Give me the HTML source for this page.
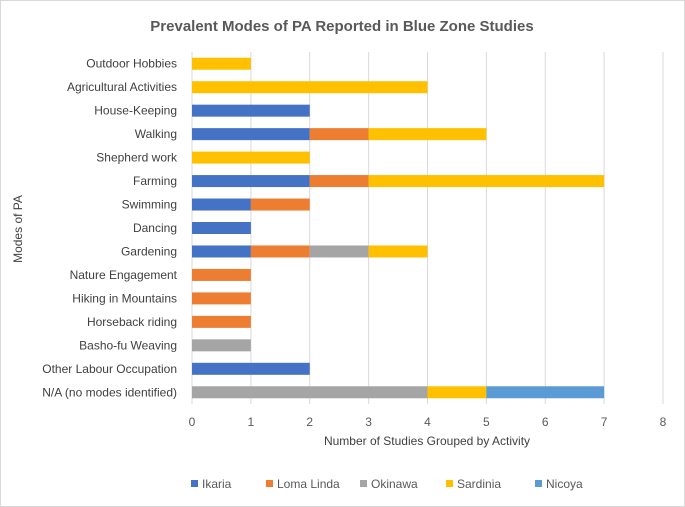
<!DOCTYPE html>
<html><head><meta charset="utf-8"><style>
body{margin:0;background:#fff;font-family:"Liberation Sans",sans-serif}
#c{position:relative;width:685px;height:507px;overflow:hidden}
text{font-family:"Liberation Sans",sans-serif}
</style></head><body>
<div id="c">
<svg id="s" width="685" height="507" xmlns="http://www.w3.org/2000/svg">
<rect x="0.5" y="0.5" width="684" height="506" fill="#fff" stroke="#d9d9d9"/>
<text x="342" y="31" text-anchor="middle" font-size="15" font-weight="bold" fill="#595959">Prevalent Modes of PA Reported in Blue Zone Studies</text>
<text transform="translate(22,229) rotate(-90)" text-anchor="middle" font-size="12" fill="#404040">Modes of PA</text>
<text x="427" y="445" text-anchor="middle" font-size="12" fill="#404040">Number of Studies Grouped by Activity</text>
<g id="grid"></g><g id="bars"></g><g id="ylab"></g><g id="xlab"></g><g id="legend"></g>
</svg></div>
<script>
const categories=["Outdoor Hobbies","Agricultural Activities","House-Keeping","Walking","Shepherd work","Farming","Swimming","Dancing","Gardening","Nature Engagement","Hiking in Mountains","Horseback riding","Basho-fu Weaving","Other Labour Occupation","N/A (no modes identified)"];
const seriesNames=["Ikaria","Loma Linda","Okinawa","Sardinia","Nicoya"];
const ikaria=[0,0,2,2,0,2,1,1,1,0,0,0,0,2,0];
const lomaLinda=[0,0,0,1,0,1,1,0,1,1,1,1,0,0,0];
const okinawa=[0,0,0,0,0,0,0,0,1,0,0,0,1,0,4];
const sardinia=[1,4,0,2,2,4,0,0,1,0,0,0,0,0,1];
const nicoya=[0,0,0,0,0,0,0,0,0,0,0,0,0,0,2];
const xTicks=[0,1,2,3,4,5,6,7,8];
const colors=["#4472C4","#ED7D31","#A5A5A5","#FFC000","#5B9BD5"];
const series=[ikaria,lomaLinda,okinawa,sardinia,nicoya];
const NS="http://www.w3.org/2000/svg";
const x0=192,x1=663,yTop=52,yBot=404;
const xs=v=>x0+(x1-x0)*v/8;
const band=(yBot-yTop)/categories.length;
const ys=i=>yTop+band*(i+0.5);
function mk(t,a,p){const e=document.createElementNS(NS,t);for(const k in a)e.setAttribute(k,a[k]);p.appendChild(e);return e;}
const g=document.getElementById('grid');
xTicks.forEach(t=>{const l=mk('line',{x1:xs(t),x2:xs(t),y1:yTop,y2:yBot,stroke:'#d9d9d9','stroke-width':1},g);


const tx=mk('text',{x:xs(t),y:426,'text-anchor':'middle','font-size':12,fill:'#595959'},document.getElementById('xlab'));tx.textContent=t;

});
const bg=document.getElementById('bars');
categories.forEach((c,i)=>{let acc=0;
series.forEach((s,j)=>{const v=s[i];if(!v)return;
const r=mk('rect',{x:xs(acc),y:ys(i)-6,width:xs(acc+v)-xs(acc),height:12,fill:colors[j]},bg);


acc+=v;});
const t=mk('text',{x:177,y:ys(i)+4,'text-anchor':'end','font-size':12,fill:'#404040'},document.getElementById('ylab'));t.textContent=c;

});
const lg=document.getElementById('legend');
const lx=[191,266,360,446,535];
seriesNames.forEach((n,j)=>{const r=mk('rect',{x:lx[j],y:480,width:7,height:7,fill:colors[j]},lg);


const t=mk('text',{x:lx[j]+11,y:488,'font-size':12,fill:'#595959'},lg);t.textContent=n;

});
</script></body></html>
